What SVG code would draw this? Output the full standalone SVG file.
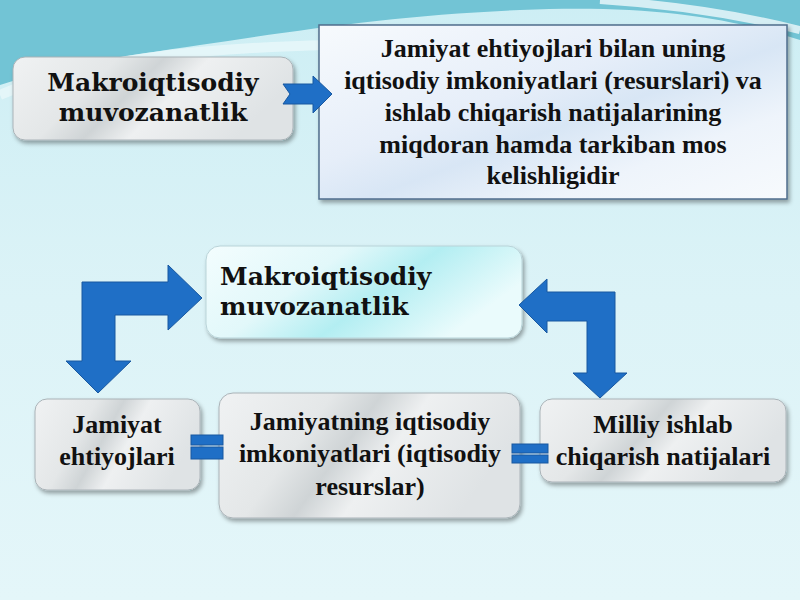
<svg xmlns="http://www.w3.org/2000/svg" width="800" height="600" viewBox="0 0 800 600">
<defs>
<linearGradient id="bg" x1="0" y1="0" x2="0" y2="1">
<stop offset="0" stop-color="#cdeef4"/>
<stop offset="0.5" stop-color="#dcf3f7"/>
<stop offset="1" stop-color="#e4f6f9"/>
</linearGradient>
<linearGradient id="metal" x1="0" y1="0" x2="1" y2="0.3">
<stop offset="0" stop-color="#f0f2f3"/>
<stop offset="0.35" stop-color="#e4e7e8"/>
<stop offset="0.5" stop-color="#cfd4d6"/>
<stop offset="0.65" stop-color="#eef0f1"/>
<stop offset="1" stop-color="#dfe3e5"/>
</linearGradient>
<linearGradient id="blueBox" x1="0" y1="0" x2="1" y2="1">
<stop offset="0" stop-color="#f7fafd"/>
<stop offset="0.4" stop-color="#e6eef9"/>
<stop offset="0.55" stop-color="#d8e6f5"/>
<stop offset="0.75" stop-color="#eef4fb"/>
<stop offset="1" stop-color="#f7fafd"/>
</linearGradient>
<linearGradient id="cyanBox" x1="0" y1="0" x2="1" y2="0.4">
<stop offset="0" stop-color="#f3fdfe"/>
<stop offset="0.4" stop-color="#e2f8fa"/>
<stop offset="0.65" stop-color="#b3eef2"/>
<stop offset="1" stop-color="#eafbfc"/>
</linearGradient>
<filter id="sh" x="-10%" y="-10%" width="125%" height="130%">
<feDropShadow dx="2" dy="3" stdDeviation="2" flood-color="#000" flood-opacity="0.35"/>
</filter>
<style>
.cam{font-family:"DejaVu Serif","Liberation Serif",serif;font-weight:bold;font-size:25px;fill:#111}
.tnr{font-family:"Liberation Serif","Times New Roman",serif;font-weight:bold;font-size:26px;fill:#111;text-anchor:middle}
.arr{fill:#1f6fc6;stroke:#1858a0;stroke-width:1}
.metalbox{fill:url(#metal);stroke:#aab3b8;stroke-width:1;filter:url(#sh)}
</style>
</defs>

<rect width="800" height="600" fill="url(#bg)"/>
<path d="M0,0 H800 V40 C720,15 640,5 520,10 C400,15 300,30 200,45 C120,57 60,65 0,85 Z" fill="#72c4d5"/>
<path d="M0,95 C80,60 200,48 330,45" fill="none" stroke="#e9f7fa" stroke-width="10" opacity="0.8"/>
<path d="M600,0 C680,5 740,15 800,30" fill="none" stroke="#eef9fb" stroke-width="8" opacity="0.8"/>

<g id="node-top-left">
<rect x="13" y="57" width="280" height="83" rx="12" class="metalbox"/>
<text class="cam" x="153" y="91" text-anchor="middle">Makroiqtisodiy</text>
<text class="cam" x="153" y="121" text-anchor="middle">muvozanatlik</text>
</g>

<g id="node-definition">
<rect x="319" y="25" width="468" height="174" fill="url(#blueBox)" stroke="#4f6d8c" stroke-width="1.5" filter="url(#sh)"/>
<text class="tnr" x="553" y="57">Jamiyat ehtiyojlari bilan uning</text>
<text class="tnr" x="553" y="89">iqtisodiy imkoniyatlari (resurslari) va</text>
<text class="tnr" x="553" y="121">ishlab chiqarish natijalarining</text>
<text class="tnr" x="553" y="153">miqdoran hamda tarkiban mos</text>
<text class="tnr" x="553" y="184">kelishligidir</text>
</g>

<g id="node-middle">
<rect x="206" y="246" width="316" height="92" rx="14" fill="url(#cyanBox)" stroke="#b9d3d8" stroke-width="1" filter="url(#sh)"/>
<text class="cam" x="220" y="285">Makroiqtisodiy</text>
<text class="cam" x="220" y="315">muvozanatlik</text>
</g>

<g id="node-needs">
<rect x="35" y="399" width="165" height="91" rx="12" class="metalbox"/>
<text class="tnr" x="117" y="433">Jamiyat</text>
<text class="tnr" x="117" y="465">ehtiyojlari</text>
</g>

<g id="node-resources">
<rect x="219" y="393" width="301" height="125" rx="14" class="metalbox"/>
<text class="tnr" x="370" y="430">Jamiyatning iqtisodiy</text>
<text class="tnr" x="370" y="462">imkoniyatlari (iqtisodiy</text>
<text class="tnr" x="370" y="495">resurslar)</text>
</g>

<g id="node-output">
<rect x="540" y="399" width="246" height="83" rx="12" class="metalbox"/>
<text class="tnr" x="663" y="433">Milliy ishlab</text>
<text class="tnr" x="663" y="465">chiqarish natijalari</text>
</g>

<g id="connectors">
<path class="arr" d="M283,84 H313 V76 L332,94 L313,113 V104 H283 L290,94 Z"/>
<path class="arr" d="M82,282 H168 V265 L202,298 L168,330 V315 H115 V361 H131 L98,393 L66,361 H82 Z"/>
<path class="arr" d="M615,292 V373 H627 L600,398 L573,373 H587 V321 H547 V333 L519,305 L547,279 V292 Z"/>
<rect class="arr" x="191" y="435" width="32" height="10"/>
<rect class="arr" x="191" y="447" width="32" height="12"/>
<rect class="arr" x="512" y="444" width="36" height="9"/>
<rect class="arr" x="512" y="455" width="36" height="8"/>
</g>
</svg>
